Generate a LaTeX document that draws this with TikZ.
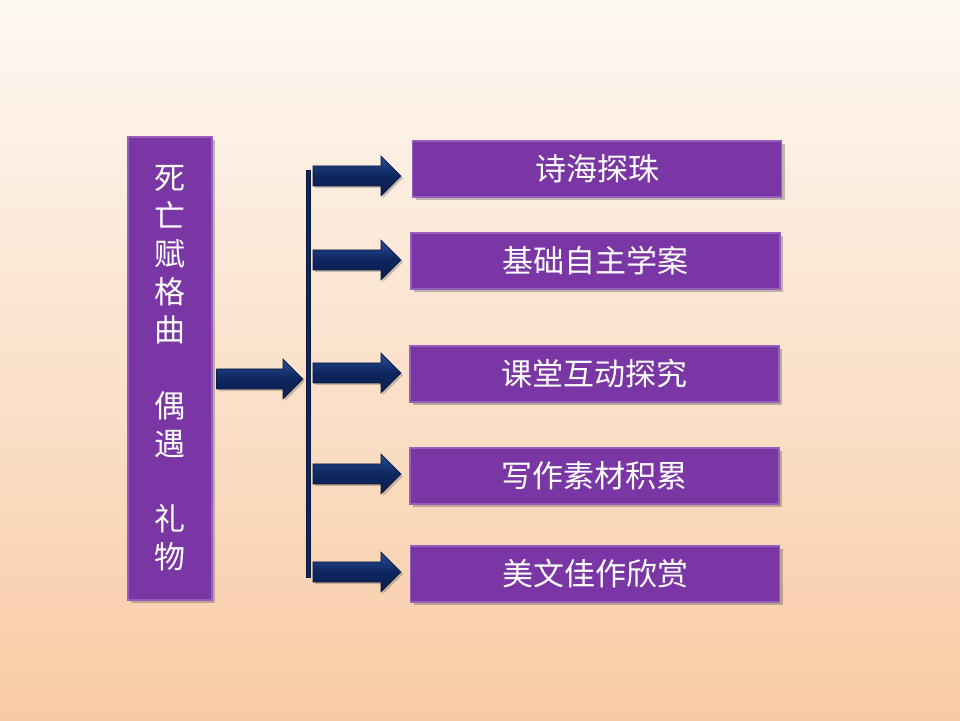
\documentclass[tikz,border=0pt]{standalone}
\usepackage{fontspec}
\newfontfamily\cjk{Noto Sans CJK SC}
\usetikzlibrary{shadows,calc}
\definecolor{bgtop}{RGB}{254,248,243}
\definecolor{bgbot}{RGB}{248,203,165}
\definecolor{purp}{RGB}{122,54,164}
\definecolor{purpedge}{RGB}{150,95,190}
\definecolor{navy}{RGB}{14,38,96}
\definecolor{navylight}{RGB}{40,78,148}
\tikzset{
  box/.style={fill=purp, draw=purpedge, line width=1.2pt,
    drop shadow={shadow xshift=3pt, shadow yshift=-3pt, opacity=0.35, fill=black!70},
    text=white, font=\cjk\fontsize{31}{37.9}\selectfont, inner sep=0pt},
  rbox/.style={box, minimum width=369pt, minimum height=56pt},
  fatarrow/.style={top color=navylight, bottom color=navy!80!black, middle color=navy, draw=navy!60!black, line width=0.6pt,
    drop shadow={shadow xshift=2pt, shadow yshift=-2pt, opacity=0.3, fill=black!70}},
  barstyle/.style={fill=navy, draw=navy!60!black, line width=0.5pt}
}
\newcommand{\bigarrow}[2]{%
  \path[fatarrow] ($(#1)+(0,10)$) -- ($(#2)+(-20,10)$) -- ($(#2)+(-20,20)$) -- (#2)
    -- ($(#2)+(-20,-20)$) -- ($(#2)+(-20,-10)$) -- ($(#1)+(0,-10)$) -- cycle;}
\begin{document}
\begin{tikzpicture}[x=1pt,y=1pt]
\useasboundingbox (0,0) rectangle (960,720);
\shade[top color=bgtop, bottom color=bgbot, middle color={rgb,255:red,251;green,226;blue,204}] (0,0) rectangle (960,720);

% left box
\node[box, minimum width=84pt, minimum height=463pt, align=center] (left) at (170,351.5)
  {死\\亡\\赋\\格\\曲\\\mbox{}\\偶\\遇\\\mbox{}\\礼\\物};

% right boxes
\node[rbox] (b1) at (597,551) {诗海探珠};
\node[rbox] (b2) at (595.5,459) {基础自主学案};
\node[rbox] (b3) at (594.5,346) {课堂互动探究};
\node[rbox] (b4) at (594.5,244) {写作素材积累};
\node[rbox] (b5) at (595,146) {美文佳作欣赏};

% vertical bar
\coordinate (bartop) at (308,550);
\coordinate (barbot) at (308,143);
\path[barstyle] ($(bartop)+(-2.2,0)$) rectangle ($(barbot)+(2.2,0)$);

% main arrow from left box to bar
\coordinate (la) at ($(left.east)+(4,-10.5)$);
\coordinate (lb) at (303,341);
\bigarrow{la}{lb}

% branch arrows
\foreach \i/\y in {1/544,2/460,3/347,4/246,5/148}{
  \coordinate (s\i) at (313,\y);
  \coordinate (t\i) at (401,\y);
  \bigarrow{s\i}{t\i}
}
\end{tikzpicture}
\end{document}
